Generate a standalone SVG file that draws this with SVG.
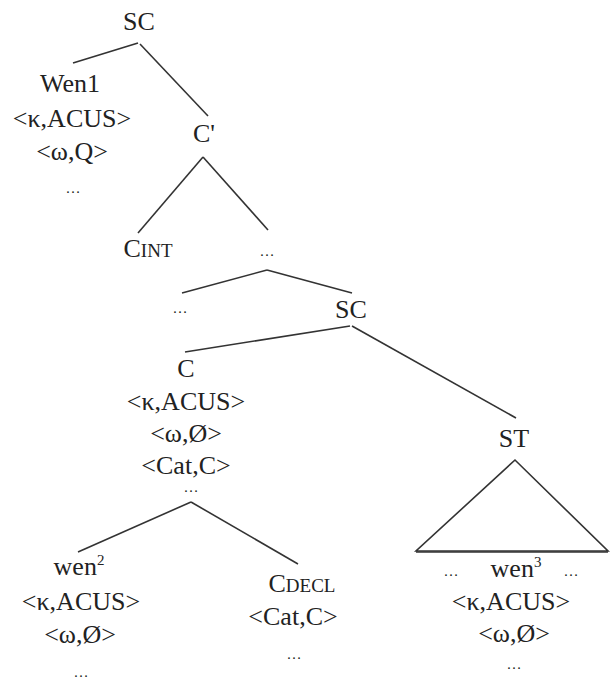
<svg xmlns="http://www.w3.org/2000/svg" width="610" height="679" viewBox="0 0 610 679">
<style>
text{font-family:"Liberation Serif","Times New Roman",serif;font-size:26px;fill:#222;text-anchor:middle}
.sm{font-size:19px}
.el{font-size:15px}
.sup{font-size:15px}
#edges line,#edges polygon{stroke:#333;stroke-width:1.6;fill:none}
</style>
<rect width="610" height="679" fill="#fff"/>
<g id="edges">
<line x1="138" y1="43" x2="73" y2="63"/>
<line x1="140" y1="44" x2="208" y2="116"/>
<line x1="203" y1="157" x2="138" y2="233"/>
<line x1="203" y1="157" x2="268" y2="230"/>
<line x1="267" y1="270" x2="182" y2="293"/>
<line x1="267" y1="270" x2="352" y2="293"/>
<line x1="350" y1="326" x2="185" y2="352"/>
<line x1="352" y1="326" x2="516" y2="418"/>
<line x1="191" y1="502" x2="78" y2="552"/>
<line x1="191" y1="502" x2="298" y2="564"/>
<polygon points="515,460 416,551 608,551"/>
<line x1="416" y1="552" x2="608" y2="552"/>
</g>
<g id="sc1"><text x="139" y="30">SC</text></g>
<g id="wen1">
<text x="70" y="92">Wen1</text>
<text x="72" y="127">&lt;κ,ACUS&gt;</text>
<text x="72" y="160">&lt;ω,Q&gt;</text>
<text x="73" y="193" class="el">…</text>
</g>
<g id="cbar1"><text x="204" y="142">C'</text></g>
<g id="cint"><text x="148" y="257">C<tspan class="sm">INT</tspan></text></g>
<g id="dots1"><text x="267" y="256" class="el">…</text></g>
<g id="dots2"><text x="180" y="313" class="el">…</text></g>
<g id="sc2"><text x="351" y="318">SC</text></g>
<g id="c">
<text x="186" y="377">C</text>
<text x="186" y="410">&lt;κ,ACUS&gt;</text>
<text x="186" y="442">&lt;ω,Ø&gt;</text>
<text x="186" y="474">&lt;Cat,C&gt;</text>
</g>
<g id="dots3"><text x="191" y="492" class="el">…</text></g>
<g id="wen2">
<text x="79" y="575">wen<tspan class="sup" dy="-10">2</tspan></text>
<text x="81" y="610">&lt;κ,ACUS&gt;</text>
<text x="80" y="643">&lt;ω,Ø&gt;</text>
<text x="81" y="677" class="el">…</text>
</g>
<g id="cdecl">
<text x="302" y="592">C<tspan class="sm">DECL</tspan></text>
<text x="293" y="625">&lt;Cat,C&gt;</text>
<text x="294" y="659" class="el">…</text>
</g>
<g id="st"><text x="514" y="447">ST</text></g>
<g id="wen3">
<text x="451" y="576" class="el">…</text>
<text x="516" y="577">wen<tspan class="sup" dy="-10">3</tspan></text>
<text x="571" y="576" class="el">…</text>
<text x="511" y="610">&lt;κ,ACUS&gt;</text>
<text x="514" y="642">&lt;ω,Ø&gt;</text>
<text x="514" y="669" class="el">…</text>
</g>
</svg>
